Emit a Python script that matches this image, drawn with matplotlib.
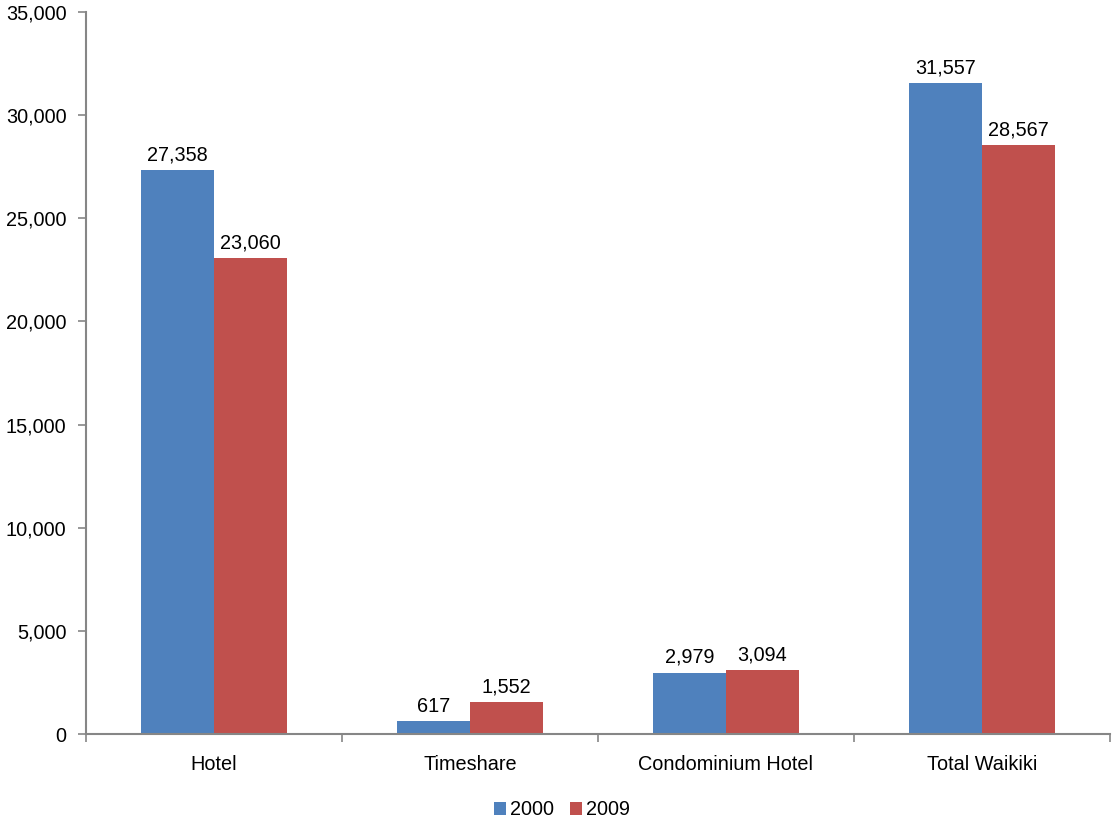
import matplotlib
matplotlib.use("agg")
import matplotlib.pyplot as plt
import numpy as np

plt.rcParams["font.family"] = ["Liberation Sans", "DejaVu Sans"]

categories = ["Hotel", "Timeshare", "Condominium Hotel", "Total Waikiki"]
units_2000 = [27358, 617, 2979, 31557]
units_2009 = [23060, 1552, 3094, 28567]
series_labels = ["2000", "2009"]
colors = ["#4F81BD", "#C0504D"]

fs = 14.3

fig = plt.figure(figsize=(11.13, 8.21), dpi=100)
ax = fig.add_axes([86 / 1113, 1 - 734 / 821, (1110 - 86) / 1113, (734 - 12) / 821])

x = np.arange(len(categories))
width = 0.285

for offset, vals, lab, col in [(-width / 2, units_2000, series_labels[0], colors[0]),
                               (width / 2, units_2009, series_labels[1], colors[1])]:
    bars = ax.bar(x + offset, vals, width, color=col, label=lab, linewidth=0)
    ax.bar_label(bars, labels=[f"{v:,}" for v in vals], padding=4, fontsize=fs)

ax.set_xlim(-0.5, len(categories) - 0.5)
ax.set_ylim(0, 35000)
ax.set_yticks(np.arange(0, 35001, 5000))
ax.yaxis.set_major_formatter(matplotlib.ticker.FuncFormatter(lambda v, p: f"{int(v):,}"))

# category labels centred, ticks at the group boundaries
ax.set_xticks(x)
ax.set_xticklabels(categories, fontsize=fs)
ax.tick_params(axis="x", length=0, pad=15)
ax.set_xticks(np.arange(-0.5, len(categories)), minor=True)
ax.tick_params(axis="x", which="minor", length=6, color="#868686", width=1.2)
ax.tick_params(axis="y", length=6, color="#868686", width=1.2, labelsize=fs, pad=8)

for side in ["top", "right"]:
    ax.spines[side].set_visible(False)
for side in ["left", "bottom"]:
    ax.spines[side].set_color("#868686")
    ax.spines[side].set_linewidth(1.5)

# legend centred on the figure, below the category labels
fig.legend(loc="upper center", bbox_to_anchor=(0.505, 0.035), ncol=2, frameon=False,
           fontsize=fs, handlelength=0.6, handleheight=0.6, handletextpad=0.2,
           columnspacing=0.8, borderaxespad=0)

fig.savefig("out.png", dpi=100)
